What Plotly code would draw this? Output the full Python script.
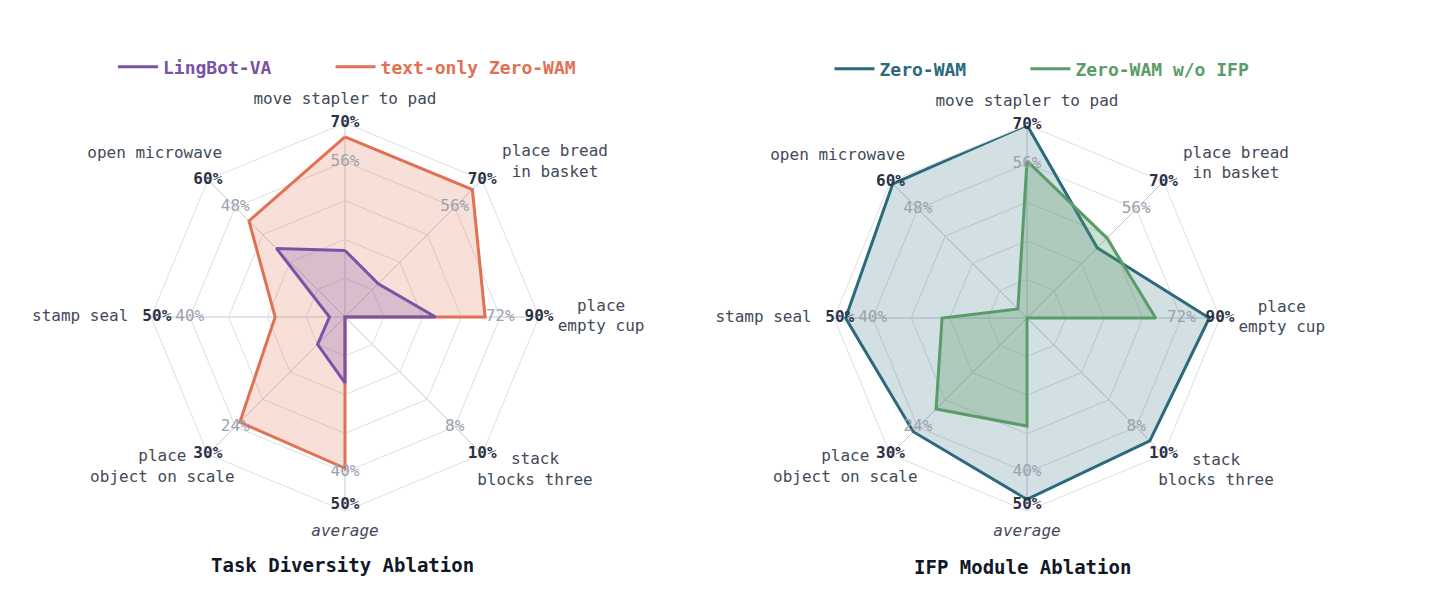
import plotly.graph_objects as go

# ---------------- data ----------------
tasks = ["move stapler to pad", "place bread in basket", "place empty cup",
         "stack blocks three", "average", "place object on scale",
         "stamp seal", "open microwave"]
task_labels = ["move stapler to pad", "place bread<br>in basket", "place<br>empty cup",
               "stack<br>blocks three", "<i>average</i>", "place<br>object on scale",
               "stamp seal", "open microwave"]
axis_max = [70, 70, 90, 10, 50, 30, 50, 60]
outer_tick_labels = ["70%", "70%", "90%", "10%", "50%", "30%", "50%", "60%"]
inner_tick_labels = ["56%", "56%", "72%", "8%", "40%", "24%", "40%", "48%"]

lingbot_va = [24, 17, 42, 0, 17, 6, 4, 30]
text_only_zero_wam = [65, 65, 65, 0, 39, 23, 18, 42]
zero_wam = [70, 36, 85, 9, 47, 25, 47, 59]
zero_wam_no_ifp = [57, 41, 60, 0, 28, 20, 22, 4]

titles = ["Task Diversity Ablation", "IFP Module Ablation"]

# ---------------- style ----------------
FONT = "DejaVu Sans Mono"
RING = "#dcdfe4"
SPOKE = "#c4c9d1"
LABEL_C = "#434a58"
BOLD_C = "#2b3245"
GRAY_C = "#9ba2ae"

PURPLE = "#7b52a6"
ORANGE = "#e07152"
TEAL = "#2a6a7a"
GREEN = "#5a9c68"

# label anchor placement (radius factor, angle in degrees clockwise from top)
label_r = [1.12, 1.345, 1.32, 1.26, 1.11, 1.22, 1.365, 1.29]
label_theta = [0, 53.6, 90, 129, 180, 230.5, 270, 310.5]
tick_theta = [0, 45, 90, 135, 180, 225, 270, 315]
outer_tick_r = [1.0, 1.0, 1.0, 1.0, 0.97, 1.0, 0.97, 1.0]
TEXT_RANGE = 1.42

W, H = 1445, 594
OFF = 8  # page body margin
centers = [(345, 317, 194), (1027, 318, 193)]


def px(x):
    return (x - OFF) / W


def py(y):
    return 1 - (y - OFF) / H


def domain(cx, cy, R):
    return dict(x=[px(cx - R), px(cx + R)], y=[py(cy + R), py(cy - R)])


def norm(vals):
    r = [v / m for v, m in zip(vals, axis_max)]
    return r + r[:1]


fig = go.Figure()

series = [
    [("LingBot-VA", lingbot_va, PURPLE, "rgba(123,82,166,0.25)", 2),
     ("text-only Zero-WAM", text_only_zero_wam, ORANGE, "rgba(224,113,82,0.22)", 1)],
    [("Zero-WAM", zero_wam, TEAL, "rgba(42,106,122,0.21)", 1),
     ("Zero-WAM w/o IFP", zero_wam_no_ifp, GREEN, "rgba(90,156,104,0.30)", 2)],
]
legend_pad = ["\u00a0" * 5, ""]

for k in range(2):
    polar = "polar" if k == 0 else "polar2"
    legend = "legend" if k == 0 else "legend2"
    # polygons, drawn in z-order
    for name, vals, col, fillc, z in sorted(series[k], key=lambda s: s[4]):
        fig.add_trace(go.Scatterpolar(
            r=norm(vals), theta=tasks + tasks[:1], mode="lines",
            fill="toself", fillcolor=fillc,
            line=dict(color=col, width=3),
            subplot=polar, showlegend=False, hoverinfo="skip"))
    # legend entries (line only)
    for i, (name, vals, col, fillc, z) in enumerate(series[k]):
        fig.add_trace(go.Scatterpolar(
            r=[None], theta=[None], mode="lines",
            line=dict(color=col, width=3),
            name=f"<b><span style='color:{col}'>{name}</span></b>{legend_pad[i]}",
            subplot=polar, legend=legend, showlegend=True, hoverinfo="skip"))

    tpolar = "polar3" if k == 0 else "polar4"
    fig.add_trace(go.Scatterpolar(
        r=outer_tick_r, theta=tick_theta, mode="text", text=outer_tick_labels,
        textposition="middle center",
        textfont=dict(family=FONT, size=16, color=BOLD_C, weight="bold"),
        subplot=tpolar, showlegend=False, hoverinfo="skip", cliponaxis=False))
    fig.add_trace(go.Scatterpolar(
        r=[0.8] * 8, theta=tick_theta, mode="text", text=inner_tick_labels,
        textposition="middle center",
        textfont=dict(family=FONT, size=16, color=GRAY_C),
        subplot=tpolar, showlegend=False, hoverinfo="skip", cliponaxis=False))
    fig.add_trace(go.Scatterpolar(
        r=label_r, theta=label_theta, mode="text", text=task_labels,
        textposition="middle center",
        textfont=dict(family=FONT, size=16, color=LABEL_C),
        subplot=tpolar, showlegend=False, hoverinfo="skip", cliponaxis=False))


def grid_polar(d):
    return dict(
        domain=d, bgcolor="rgba(0,0,0,0)", gridshape="linear",
        radialaxis=dict(range=[0, 1], tickvals=[0.2, 0.4, 0.6, 0.8, 1.0],
                        showticklabels=False, ticks="", showline=False,
                        gridcolor=RING, gridwidth=1),
        angularaxis=dict(type="category", categoryorder="array", categoryarray=tasks,
                         direction="clockwise", rotation=90,
                         showticklabels=False, ticks="", gridcolor=SPOKE,
                         gridwidth=1, showline=True, linecolor=RING, linewidth=1))


def text_polar(d):
    return dict(
        domain=d, bgcolor="rgba(0,0,0,0)",
        radialaxis=dict(range=[0, TEXT_RANGE], visible=False),
        angularaxis=dict(direction="clockwise", rotation=90, thetaunit="degrees",
                         visible=False))


legend_common = dict(orientation="h", xanchor="center", yanchor="middle",
                     font=dict(family=FONT, size=18), bgcolor="rgba(0,0,0,0)",
                     traceorder="normal", itemwidth=40)

fig.update_layout(
    width=W, height=H,
    margin=dict(l=0, r=0, t=0, b=0),
    paper_bgcolor="white", plot_bgcolor="white",
    polar=grid_polar(domain(*centers[0])), polar2=grid_polar(domain(*centers[1])),
    polar3=text_polar(domain(centers[0][0], centers[0][1], centers[0][2] * TEXT_RANGE)),
    polar4=text_polar(domain(centers[1][0], centers[1][1], centers[1][2] * TEXT_RANGE)),
    legend=dict(x=px(347), y=py(67), **legend_common),
    legend2=dict(x=px(1042), y=py(69), **legend_common),
    annotations=[
        dict(text=f"<b>{titles[0]}</b>", x=px(342), y=py(565), xref="paper",
             yref="paper", showarrow=False, xanchor="center", yanchor="middle",
             font=dict(family=FONT, size=19, color="#111827")),
        dict(text=f"<b>{titles[1]}</b>", x=px(1022), y=py(567), xref="paper",
             yref="paper", showarrow=False, xanchor="center", yanchor="middle",
             font=dict(family=FONT, size=19, color="#111827")),
    ],
)

fig.write_html("out.html")
